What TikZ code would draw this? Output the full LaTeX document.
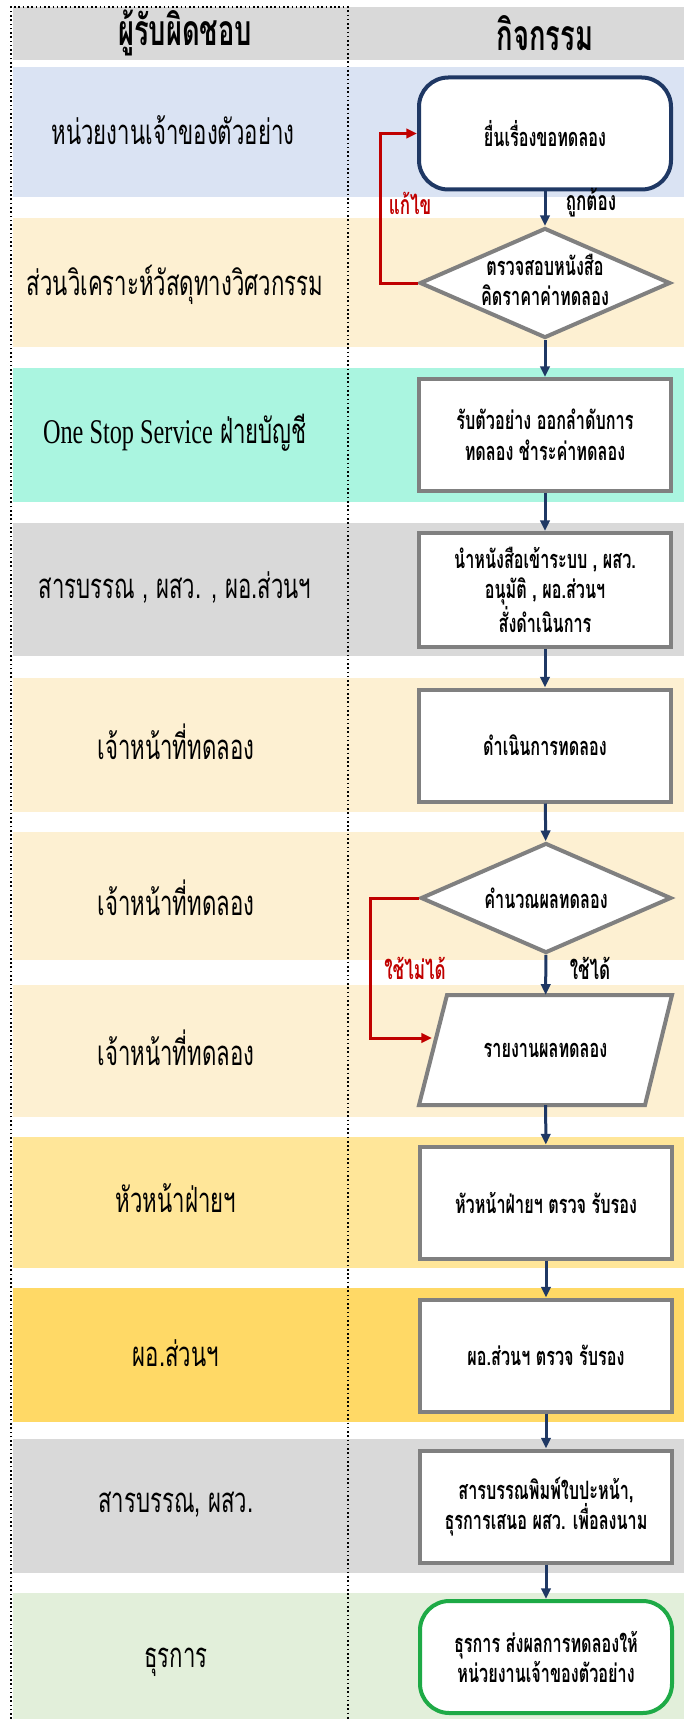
\documentclass[tikz,border=0pt]{standalone}
\usepackage{fontspec}
\setmainfont[Script=Thai,FakeStretch=0.64]{Loma}
\newfontfamily\latinfont[FakeStretch=0.7]{Liberation Serif}
\usetikzlibrary{shapes.geometric,arrows.meta}

\definecolor{bandgray}{RGB}{217,217,217}
\definecolor{bandblue}{RGB}{218,227,243}
\definecolor{bandpeach}{RGB}{253,240,210}
\definecolor{bandmint}{RGB}{170,245,224}
\definecolor{bandgold}{RGB}{255,230,153}
\definecolor{banddeep}{RGB}{255,217,102}
\definecolor{bandgreen}{RGB}{226,239,218}
\definecolor{boxgray}{RGB}{128,128,128}
\definecolor{navy}{RGB}{31,56,100}
\definecolor{flowred}{RGB}{192,0,0}
\definecolor{endgreen}{RGB}{30,170,70}

\tikzset{every picture/.style={line width=0.75pt}}
\tikzset{
  headtxt/.style={font=\bfseries\fontsize{32}{38}\selectfont, inner sep=0.75pt},
  lanetxt/.style={font=\fontsize{26}{31}\selectfont, inner sep=0.75pt},
  boxtxt/.style={font=\bfseries\fontsize{19}{23}\selectfont, align=center},
  proc/.style={boxtxt, draw=boxgray, line width=3pt, fill=white, minimum width=189pt, minimum height=84pt, inner sep=2pt},
  term/.style={proc, rounded corners=22pt},
  decide/.style={boxtxt, diamond, draw=boxgray, line width=3pt, fill=white, minimum width=188pt, minimum height=82.5pt, inner sep=0pt, aspect=2.3},
  report/.style={boxtxt, minimum width=189pt, minimum height=82pt, inner sep=2pt},
  flow/.style={draw=navy, line width=2.25pt, -{Triangle[length=8pt,width=7pt]}},
  redo/.style={draw=flowred, line width=2.25pt, -{Triangle[length=8pt,width=7pt]}},
  tag/.style={font=\bfseries\fontsize{20}{22}\selectfont, inner sep=0.75pt}
}

\begin{document}
\begin{tikzpicture}[x=0.75pt,y=0.75pt,yscale=-1,xscale=1]
\path[use as bounding box] (0,0) rectangle (684,1719);

%Shape: Rectangle [header]
\draw [draw opacity=0][fill=bandgray] (13,7) -- (684,7) -- (684,60) -- (13,60) -- cycle ;
%Shape: Rectangle [lanes]
\draw [draw opacity=0][fill=bandblue] (13,67) -- (684,67) -- (684,197) -- (13,197) -- cycle ;
\draw [draw opacity=0][fill=bandpeach] (13,218) -- (684,218) -- (684,347) -- (13,347) -- cycle ;
\draw [draw opacity=0][fill=bandmint] (13,368) -- (684,368) -- (684,502) -- (13,502) -- cycle ;
\draw [draw opacity=0][fill=bandgray] (13,523) -- (684,523) -- (684,656) -- (13,656) -- cycle ;
\draw [draw opacity=0][fill=bandpeach] (13,678) -- (684,678) -- (684,812) -- (13,812) -- cycle ;
\draw [draw opacity=0][fill=bandpeach] (13,832) -- (684,832) -- (684,960) -- (13,960) -- cycle ;
\draw [draw opacity=0][fill=bandpeach] (13,985) -- (684,985) -- (684,1117) -- (13,1117) -- cycle ;
\draw [draw opacity=0][fill=bandgold] (13,1137) -- (684,1137) -- (684,1268) -- (13,1268) -- cycle ;
\draw [draw opacity=0][fill=banddeep] (13,1288) -- (684,1288) -- (684,1422) -- (13,1422) -- cycle ;
\draw [draw opacity=0][fill=bandgray] (13,1439) -- (684,1439) -- (684,1573) -- (13,1573) -- cycle ;
\draw [draw opacity=0][fill=bandgreen] (13,1593) -- (684,1593) -- (684,1719) -- (13,1719) -- cycle ;
%Straight Lines [dotted column]
\draw [line width=1.2pt, dotted] (11,1719) -- (11,7) -- (348,7) -- (348,1719) ;

% Text Node
\draw (185,33) node [headtxt] (hwho) {ผู้รับผิดชอบ};
% Text Node
\draw (545,33) node [headtxt] (hwhat) {กิจกรรม};

% Text Node
\draw (173,130) node [lanetxt] (lane1) {หน่วยงานเจ้าของตัวอย่าง};
% Text Node
\draw (175,285) node [lanetxt] (lane2) {ส่วนวิเคราะห์วัสดุทางวิศวกรรม};
% Text Node
\draw (175,433) node [lanetxt] (lane3) {{\latinfont One Stop Service} ฝ่ายบัญชี};
% Text Node
\draw (175,588) node [lanetxt] (lane4) {สารบรรณ , ผสว. , ผอ.ส่วนฯ};
% Text Node
\draw (176,742) node [lanetxt] (lane5) {เจ้าหน้าที่ทดลอง};
% Text Node
\draw (176,898) node [lanetxt] (lane6) {เจ้าหน้าที่ทดลอง};
% Text Node
\draw (176,1048) node [lanetxt] (lane7) {เจ้าหน้าที่ทดลอง};
% Text Node
\draw (176,1198) node [lanetxt] (lane8) {หัวหน้าฝ่ายฯ};
% Text Node
\draw (176,1353) node [lanetxt] (lane9) {ผอ.ส่วนฯ};
% Text Node
\draw (176,1505) node [lanetxt] (lane10) {สารบรรณ, ผสว.};
% Text Node
\draw (176,1662) node [lanetxt] (lane11) {ธุรการ};

%Rounded Rect
\draw (545,133.5) node [term, draw=navy] (submit) {ยื่นเรื่องขอทดลอง};
%Shape: Diamond
\draw (545,283) node [decide] (check) {};
\draw (545,280) node [boxtxt] (checktxt) {ตรวจสอบหนังสือ\\คิดราคาค่าทดลอง};
%Shape: Rectangle
\draw (545,435) node [proc] (receive) {รับตัวอย่าง ออกลำดับการ\\ทดลอง ชำระค่าทดลอง};
%Shape: Rectangle
\draw (545,590) node [proc, minimum height=85.5pt] (approve) {นำหนังสือเข้าระบบ , ผสว.\\อนุมัติ , ผอ.ส่วนฯ\\สั่งดำเนินการ};
%Shape: Rectangle
\draw (545,745.5) node [proc] (testrun) {ดำเนินการทดลอง};
%Shape: Diamond
\draw (546,898) node [decide] (calc) {คำนวณผลทดลอง};
%Shape: Parallelogram
\draw [draw=boxgray, line width=3pt, fill=white] (419,1105) -- (447,995) -- (672,995) -- (645,1105) -- cycle ;
\draw (545.5,1050) node [report] (result) {รายงานผลทดลอง};
\coordinate (resultin) at (432,1038);
%Shape: Rectangle
\draw (546,1202.5) node [proc] (headok) {หัวหน้าฝ่ายฯ ตรวจ รับรอง};
%Shape: Rectangle
\draw (546,1355.5) node [proc] (dirok) {ผอ.ส่วนฯ ตรวจ รับรอง};
%Shape: Rectangle
\draw (546,1506.5) node [proc] (cover) {สารบรรณพิมพ์ใบปะหน้า,\\ธุรการเสนอ ผสว. เพื่อลงนาม};
%Rounded Rect
\draw (546,1657) node [term, draw=endgreen] (send) {ธุรการ ส่งผลการทดลองให้\\หน่วยงานเจ้าของตัวอย่าง};

%Straight Lines
\draw [flow] (submit) -- (check) ;
\draw [flow] (check) -- (receive) ;
\draw [flow] (receive) -- (approve) ;
\draw [flow] (approve) -- (testrun) ;
\draw [flow] (testrun) -- (calc) ;
\draw [flow] (calc) -- (result) ;
\draw [flow] (result) -- (headok) ;
\draw [flow] (headok) -- (dirok) ;
\draw [flow] (dirok) -- (cover) ;
\draw [flow] (cover) -- (send) ;
%Straight Lines [return]
\draw [redo] (check.west) -- ++(-37,0) |- (submit.west) ;
\draw [redo] (calc.west) -- ++(-48,0) |- (resultin) ;

% Text Node
\draw (410,203) node [tag, text=flowred] (fix) {แก้ไข};
% Text Node
\draw (591,203) node [tag] (ok) {ถูกต้อง};
% Text Node
\draw (415,968) node [tag, text=flowred] (bad) {ใช้ไม่ได้};
% Text Node
\draw (590,968) node [tag] (good) {ใช้ได้};

\end{tikzpicture}
\end{document}
